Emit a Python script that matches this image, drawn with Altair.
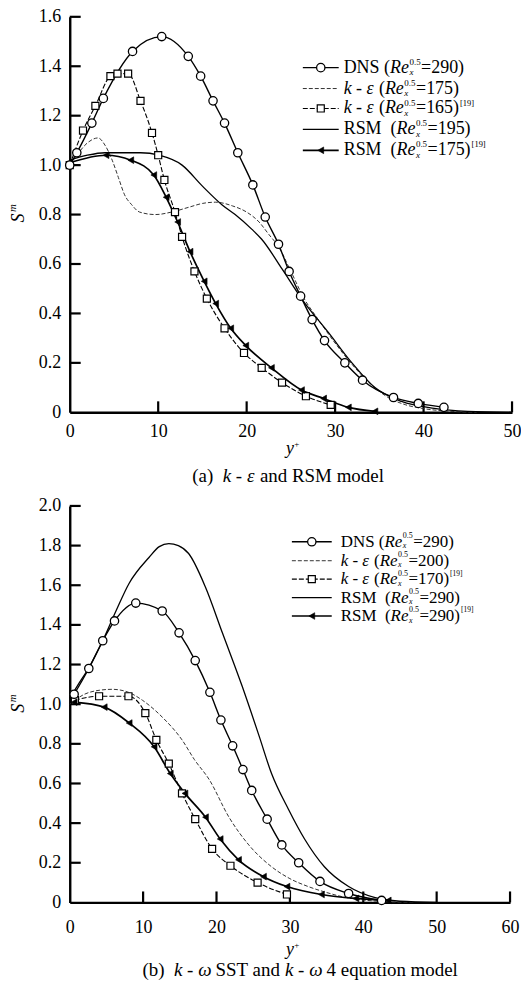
import altair as alt
import pandas as pd

# ---------------- panel (a): k-epsilon and RSM ----------------
A_DNS_X = [0, 0.8, 2.5, 3.8, 7.1, 10.4, 13.4, 14.8, 16.2, 17.5, 19.0, 20.7, 22.1, 23.6, 24.8, 26.1,
           27.4, 28.8, 31.1, 33.1, 36.6, 39.4, 42.3]
A_DNS_Y = [1.0, 1.05, 1.17, 1.27, 1.46, 1.52, 1.44, 1.36, 1.26, 1.17, 1.05, 0.92, 0.79, 0.68, 0.57, 0.47,
           0.375, 0.29, 0.20, 0.13, 0.06, 0.036, 0.02]

A_KE175_X = [0, 1, 2, 3.2, 4, 4.8, 5.5, 6.2, 7, 7.9, 9.7, 11.5, 13.5, 15, 16.5, 18.4, 20, 21.4, 22.5,
             23.6, 25, 26.5, 28, 30, 32, 34, 36, 38, 40, 43, 46]
A_KE175_Y = [1.0, 1.05, 1.09, 1.11, 1.08, 1.02, 0.95, 0.88, 0.84, 0.81, 0.80, 0.81, 0.83, 0.845, 0.85,
             0.835, 0.81, 0.77, 0.72, 0.67, 0.57, 0.46, 0.38, 0.28, 0.19, 0.115, 0.06, 0.03, 0.015,
             0.004, 0]

A_KE165_X = [0, 1.5, 2.9, 4.6, 5.4, 6.6, 8.0, 9.3, 10.0, 10.7, 11.9, 12.7, 14.1, 15.5, 17.5, 19.7,
             21.7, 24.0, 26.7, 29.5]
A_KE165_Y = [1.0, 1.14, 1.24, 1.36, 1.37, 1.37, 1.26, 1.13, 1.04, 0.94, 0.81, 0.71, 0.57, 0.46, 0.34,
             0.24, 0.18, 0.12, 0.065, 0.03]

A_RSM195_X = [0, 2, 4, 6, 8, 10.1, 12.7, 15, 17.2, 18.7, 20.6, 21.7, 24, 26.2, 29.3, 31.9, 34.5, 37.5,
              41.2, 45, 50]
A_RSM195_Y = [1.02, 1.04, 1.05, 1.05, 1.05, 1.04, 1.0, 0.915, 0.84, 0.80, 0.74, 0.70, 0.58, 0.46, 0.32,
              0.20, 0.10, 0.044, 0.016, 0.004, 0]

A_RSM175_X = [0, 4.1, 6.9, 9.5, 10.9, 12.2, 13.6, 15.2, 16.5, 18.2, 19.9, 22.8, 26.2, 28.7, 31.5, 34.5]
A_RSM175_Y = [1.01, 1.04, 1.02, 0.96, 0.87, 0.77, 0.65, 0.53, 0.44, 0.34, 0.27, 0.18, 0.09, 0.056,
              0.02, 0.004]

# ---------------- panel (b): k-omega SST and k-omega 4 equation ----------------
B_DNS_X = [0.6, 2.6, 4.5, 6.1, 9.0, 12.6, 14.9, 17.1, 19.1, 20.6, 22.2, 23.6, 24.8, 26.9, 28.9, 31.2,
           34.1, 38.0, 42.5]
B_DNS_Y = [1.05, 1.18, 1.32, 1.42, 1.51, 1.47, 1.36, 1.22, 1.06, 0.92, 0.79, 0.67, 0.565, 0.42, 0.29,
           0.20, 0.106, 0.045, 0.01]

B_KE200_X = [0, 2, 4, 5.8, 8, 9.9, 12.6, 15.3, 17, 19, 21.7, 24.4, 27.5, 30, 32.5, 35, 37, 40, 43, 47]
B_KE200_Y = [1.0, 1.05, 1.07, 1.075, 1.06, 1.02, 0.935, 0.82, 0.72, 0.62, 0.43, 0.29, 0.18, 0.12, 0.08,
             0.05, 0.03, 0.012, 0.004, 0]

B_KE170_X = [0.7, 4.0, 8.0, 10.3, 11.8, 13.5, 15.3, 17.1, 19.4, 21.9, 25.6, 29.6]
B_KE170_Y = [1.02, 1.04, 1.04, 0.955, 0.82, 0.70, 0.55, 0.42, 0.27, 0.185, 0.10, 0.04]

B_RSM290_X = [0, 1, 2.7, 4.5, 6.3, 8.1, 10.8, 12.2, 13.5, 14.8, 16.2, 18.5, 20.8, 23.5, 25.8, 27.5,
              29.8, 32, 34.7, 38, 41.5, 45, 50]
B_RSM290_Y = [1.03, 1.09, 1.19, 1.32, 1.47, 1.61, 1.74, 1.795, 1.81, 1.80, 1.76, 1.59, 1.36, 1.09,
              0.84, 0.65, 0.47, 0.32, 0.18, 0.08, 0.025, 0.006, 0]

B_RSM290R_X = [0.6, 4.7, 8.1, 11.5, 13.7, 15.7, 18.5, 20.5, 23.0, 26.4, 29.6, 34.3, 39.0, 43.4]
B_RSM290R_Y = [1.01, 0.985, 0.905, 0.785, 0.65, 0.55, 0.43, 0.32, 0.215, 0.13, 0.08, 0.04, 0.02, 0.01]

SERIF = "Liberation Serif, Times New Roman, serif"

# Times-compatible advance widths (per 1000 em) used to lay out mixed-style text runs
W_N = {" ": 250, "(": 333, ")": 333, "=": 564, "[": 333, "]": 333, "-": 333, ".": 250, "+": 564,
       "D": 722, "N": 722, "S": 556, "R": 667, "M": 889, "T": 611,
       "a": 444, "n": 500, "d": 500, "m": 778, "o": 500, "e": 444, "l": 278, "q": 500, "u": 500,
       "t": 278, "i": 278, "b": 500, "k": 500, "x": 500, "y": 500, "ε": 440, "ω": 690}
W_I = {"R": 611, "e": 444, "k": 444, "x": 444, "y": 444, "S": 500, "m": 722, "ε": 440, "ω": 670}


def text_width(s, size, italic=False):
    tbl = W_I if italic else W_N
    return sum(tbl.get(c, W_N.get(c, 500)) for c in s) * size / 1000.0


def text_mark(s, x, y, size, italic=False, angle=0, align="left"):
    kw = dict(font=SERIF, fontSize=size, color="black", align=align, baseline="middle")
    if italic:
        kw["fontStyle"] = "italic"
    if angle:
        kw["angle"] = angle
    return alt.Chart(pd.DataFrame({"t": [s]})).mark_text(**kw).encode(
        text="t:N", x=alt.value(x), y=alt.value(y))


def rich_text(pieces, x0, y, size, small):
    layers = []
    x = x0
    for kind, s in pieces:
        if kind in ("n", "i"):
            it = kind == "i"
            lead = len(s) - len(s.lstrip(" "))
            body = s.strip(" ")
            if body:
                layers.append(text_mark(body, x + text_width(" " * lead, size, it), y, size, it))
            x += text_width(s, size, it)
        elif kind == "ss":
            sup, sub = s
            layers.append(text_mark(sup, x + 0.5, y - size * 0.33, small))
            layers.append(text_mark(sub, x + 0.5, y + size * 0.27, small, italic=True))
            x += max(text_width(sup, small), text_width(sub, small, True)) + 1
        elif kind == "sup":
            layers.append(text_mark(s, x + 1, y - size * 0.33, small - 0.5))
            x += text_width(s, small - 0.5) + 1
    return layers


def re_label(prefix, value, ref=False):
    p = list(prefix) + [("n", " ("), ("i", "Re"), ("ss", ("0.5", "x")), ("n", "=" + value + ")")]
    if ref:
        p.append(("sup", "[19]"))
    return p


DNS = [("n", "DNS")]
KE = [("i", "k"), ("n", " - "), ("i", "ε")]
RSM = [("n", "RSM ")]

STYLE = {
    "dns": dict(line=dict(strokeWidth=1.4, color="black"),
                marker=dict(shape="circle", size=70, filled=True, fill="white", stroke="black",
                            strokeWidth=1.3)),
    "ke": dict(line=dict(strokeWidth=1.0, color="#333333", strokeDash=[4, 2])),
    "ke_sq": dict(line=dict(strokeWidth=1.1, color="black", strokeDash=[5, 2]),
                  marker=dict(shape="square", size=50, filled=True, fill="white", stroke="black",
                              strokeWidth=1.2)),
    "rsm": dict(line=dict(strokeWidth=1.3, color="black")),
    "rsm_tri": dict(line=dict(strokeWidth=1.7, color="black"),
                    marker=dict(shape="triangle-left", size=45, filled=True, fill="black",
                                stroke="black", strokeWidth=0.6)),
}


def panel(series, legend, xmax, ymax, width, height, lab_pad_x, leg, caption, cap_xy,
          ytitle_xy, xtitle_xy):
    xs = alt.Scale(domain=[0, xmax], nice=False)
    ys = alt.Scale(domain=[0, ymax], nice=False)
    xt = list(range(0, xmax + 1, 10))
    yt = [round(i * 0.2, 1) for i in range(int(round(ymax / 0.2)) + 1)]
    common = dict(domainColor="black", domainWidth=2.4, ticks=False, tickSize=0, grid=False,
                  labelFont=SERIF, labelFontSize=18, labelColor="black", labelOverlap=False)
    X = alt.X("x:Q", scale=xs, title=None,
              axis=alt.Axis(values=xt, format="d", labelPadding=lab_pad_x, labelFlush=False, **common))
    Y = alt.Y("y:Q", scale=ys, title=None,
              axis=alt.Axis(values=yt, labelPadding=9, labelFlush=False,
                            labelExpr="datum.value == 0 ? '0' : format(datum.value, '.1f')",
                            **common))
    layers = []
    # inward tick marks
    layers.append(alt.Chart(pd.DataFrame({"y": yt[1:]})).mark_rule(color="black", strokeWidth=2.2)
                  .encode(y=Y, x=alt.value(0), x2=alt.value(11)))
    layers.append(alt.Chart(pd.DataFrame({"x": xt[1:]})).mark_rule(color="black", strokeWidth=2.2)
                  .encode(x=X, y=alt.value(height), y2=alt.value(height - 11)))
    for xv, yv, key in series:
        df = pd.DataFrame({"x": xv, "y": yv})
        layers.append(alt.Chart(df).mark_line(interpolate="monotone", **STYLE[key]["line"])
                      .encode(x=X, y=Y))
    for xv, yv, key in series:
        if "marker" in STYLE[key]:
            df = pd.DataFrame({"x": xv, "y": yv})
            layers.append(alt.Chart(df).mark_point(opacity=1, **STYLE[key]["marker"])
                          .encode(x=X, y=Y))
    # legend
    lx1, lx2, tx, rows, size, small = leg
    for (key, pieces), ry in zip(legend, rows):
        dummy = pd.DataFrame({"k": [0]})
        layers.append(alt.Chart(dummy).mark_rule(**STYLE[key]["line"])
                      .encode(x=alt.value(lx1), x2=alt.value(lx2), y=alt.value(ry)))
        if "marker" in STYLE[key]:
            layers.append(alt.Chart(dummy).mark_point(opacity=1, **STYLE[key]["marker"])
                          .encode(x=alt.value((lx1 + lx2) / 2), y=alt.value(ry)))
        layers += rich_text(pieces, tx, ry, size, small)
    # axis titles
    sx, sy = ytitle_xy
    layers.append(text_mark("S", sx, sy, 18, italic=True, angle=270, align="center"))
    layers.append(text_mark("m", sx - 6, sy - 10, 11, italic=True, angle=270, align="center"))
    yx, yy = xtitle_xy
    layers.append(text_mark("y", yx, yy, 18, italic=True, align="center"))
    layers.append(text_mark("+", yx + 7, yy - 5, 9, align="center"))
    # caption
    layers += rich_text(caption, cap_xy[0], cap_xy[1], 19, 11)
    return alt.layer(*layers).properties(width=width, height=height)


top = panel(
    series=[(A_KE175_X, A_KE175_Y, "ke"), (A_RSM195_X, A_RSM195_Y, "rsm"),
            (A_KE165_X, A_KE165_Y, "ke_sq"), (A_RSM175_X, A_RSM175_Y, "rsm_tri"),
            (A_DNS_X, A_DNS_Y, "dns")],
    legend=[("dns", re_label(DNS, "290")), ("ke", re_label(KE, "175")),
            ("ke_sq", re_label(KE, "165", True)), ("rsm", re_label(RSM, "195")),
            ("rsm_tri", re_label(RSM, "175", True))],
    xmax=50, ymax=1.6, width=444, height=397, lab_pad_x=10,
    leg=(234, 270, 275, [51, 72, 92, 113, 134], 18, 9),
    caption=[("n", "(a)"), ("n", "  "), ("i", "k"), ("n", " - "), ("i", "ε"),
             ("n", " and RSM model")],
    cap_xy=(123, 461), ytitle_xy=(-51, 202), xtitle_xy=(221, 434))

bottom = panel(
    series=[(B_KE200_X, B_KE200_Y, "ke"), (B_RSM290_X, B_RSM290_Y, "rsm"),
            (B_KE170_X, B_KE170_Y, "ke_sq"), (B_RSM290R_X, B_RSM290R_Y, "rsm_tri"),
            (B_DNS_X, B_DNS_Y, "dns")],
    legend=[("dns", re_label(DNS, "290")), ("ke", re_label(KE, "200")),
            ("ke_sq", re_label(KE, "170", True)), ("rsm", re_label(RSM, "290")),
            ("rsm_tri", re_label(RSM, "290", True))],
    xmax=60, ymax=2.0, width=442, height=398, lab_pad_x=16,
    leg=(223, 263, 272, [36, 55, 73.5, 92, 110.5], 17, 8),
    caption=[("n", "(b)"), ("n", "  "), ("i", "k"), ("n", " - "), ("i", "ω"), ("n", " SST and "),
             ("i", "k"), ("n", " - "), ("i", "ω"), ("n", " 4 equation model")],
    cap_xy=(73, 466), ytitle_xy=(-51, 203), xtitle_xy=(221, 446))

chart = alt.vconcat(top, bottom, spacing=11).properties(
    padding={"left": 7, "top": 6, "right": 0, "bottom": 0}
).configure_view(stroke=None)

chart.save("out.html", embed_options={"renderer": "svg", "actions": False})
